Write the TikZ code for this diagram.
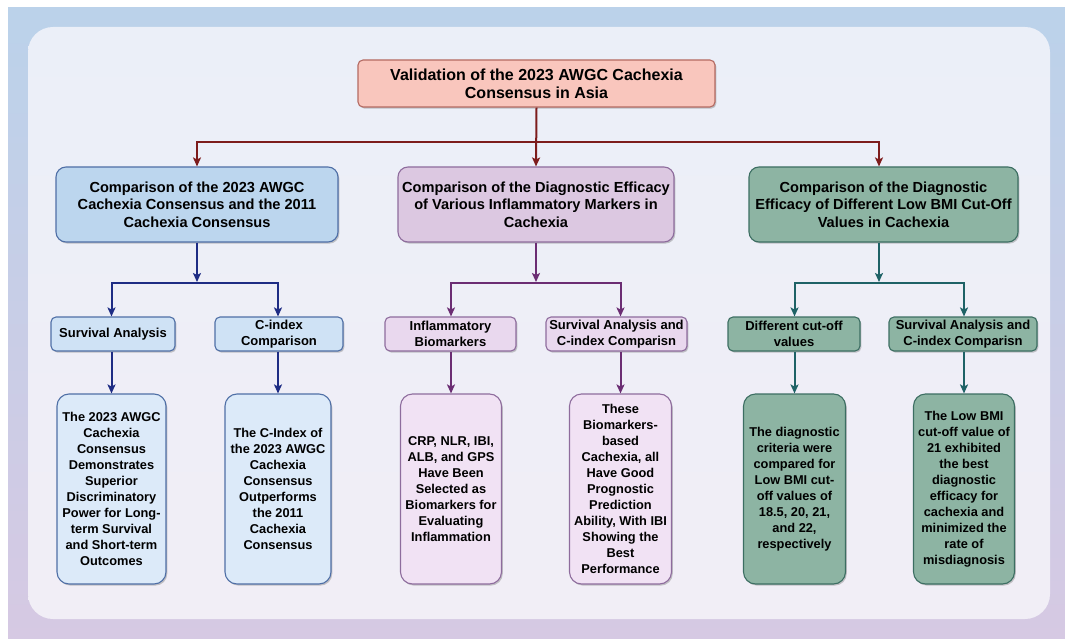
\documentclass[tikz,border=0pt]{standalone}
\usepackage{fontspec}
\setmainfont{Liberation Sans}
\usetikzlibrary{arrows.meta,shadows}

\definecolor{bgtop}{HTML}{BBD2EA}
\definecolor{bgbot}{HTML}{D6C9E3}
\definecolor{pantop}{HTML}{EBEFF8}
\definecolor{panbot}{HTML}{F1EEF6}
\definecolor{topfill}{HTML}{F9C6BD}
\definecolor{topdraw}{HTML}{B46A62}
\definecolor{redc}{HTML}{7D1C1C}
\definecolor{bluefillA}{HTML}{BCD6EE}
\definecolor{bluefillB}{HTML}{CFE2F5}
\definecolor{bluefillC}{HTML}{DCEAF9}
\definecolor{bluedraw}{HTML}{4F6FA6}
\definecolor{bluec}{HTML}{1E2C84}
\definecolor{purfillA}{HTML}{DCC8E1}
\definecolor{purfillB}{HTML}{E9D8EE}
\definecolor{purfillC}{HTML}{F1E2F4}
\definecolor{purdraw}{HTML}{8E6C9D}
\definecolor{purc}{HTML}{6B2D73}
\definecolor{grnfill}{HTML}{8DB4A3}
\definecolor{grndraw}{HTML}{3C6E62}
\definecolor{grnc}{HTML}{1E6266}

\tikzset{
  nodebox/.style={draw, line width=1.1pt, align=center, inner sep=1pt, text=black,
    drop shadow={shadow xshift=1.3pt, shadow yshift=-1.6pt, opacity=0.35, fill=black!60}},
  topbox/.style={nodebox, fill=topfill, draw=topdraw, rounded corners=5pt,
    font=\bfseries\fontsize{16}{18.3}\selectfont, minimum width=357pt, minimum height=47pt},
  lvtwo/.style={nodebox, rounded corners=10pt,
    font=\bfseries\fontsize{14.6}{17.5}\selectfont, minimum height=75pt},
  lvthree/.style={nodebox, rounded corners=5pt,
    font=\bfseries\fontsize{13}{16}\selectfont, minimum height=34pt},
  lvfour/.style={nodebox, rounded corners=12pt,
    font=\bfseries\fontsize{12.8}{16}\selectfont, minimum height=190pt},
  conn/.style={line width=2pt, -{Stealth[length=9pt,width=8pt,inset=2pt]}},
  bareline/.style={line width=2pt}
}

\begin{document}
\begin{tikzpicture}[x=1pt,y=-1pt]
\useasboundingbox (0,0) rectangle (1065,639);
\fill[white] (0,0) rectangle (1065,639);
\shade[top color=bgtop,bottom color=bgbot] (8,8) rectangle (1065,639);
\shade[top color=pantop,bottom color=panbot,rounded corners=25pt] (28,27) rectangle (1050,619);

% top
\node[topbox] (top) at (536.5,83.5) {Validation of the 2023 AWGC Cachexia\\Consensus in Asia};

% level 2
\node[lvtwo, fill=bluefillA, draw=bluedraw, minimum width=282pt] (l2a) at (197,204.5)
  {Comparison of the 2023 AWGC\\Cachexia Consensus and the 2011\\Cachexia Consensus};
\node[lvtwo, fill=purfillA, draw=purdraw, minimum width=276pt] (l2b) at (536,204.5)
  {Comparison of the Diagnostic Efficacy\\of Various Inflammatory Markers in\\Cachexia};
\node[lvtwo, fill=grnfill, draw=grndraw, minimum width=269pt] (l2c) at (883.5,204.5)
  {Comparison of the Diagnostic\\Efficacy of Different Low BMI Cut-Off\\Values in Cachexia};

% level 3
\node[lvthree, fill=bluefillB, draw=bluedraw, minimum width=124pt] (b3a) at (113,334) {Survival Analysis};
\node[lvthree, fill=bluefillB, draw=bluedraw, minimum width=128pt] (b3b) at (279,334) {C-index\\Comparison};
\node[lvthree, fill=purfillB, draw=purdraw, minimum width=131pt] (p3a) at (450.5,334) {Inflammatory\\Biomarkers};
\node[lvthree, fill=purfillB, draw=purdraw, minimum width=141pt] (p3b) at (616.5,334) {Survival Analysis and\\C-index Comparisn};
\node[lvthree, fill=grnfill, draw=grndraw, minimum width=132pt] (g3a) at (794,334) {Different cut-off\\values};
\node[lvthree, fill=grnfill, draw=grndraw, minimum width=148pt] (g3b) at (963,334) {Survival Analysis and\\C-index Comparisn};

% level 4
\node[lvfour, fill=bluefillC, draw=bluedraw, minimum width=109pt] (b4a) at (111.5,489)
  {The 2023 AWGC\\Cachexia\\Consensus\\Demonstrates\\Superior\\Discriminatory\\Power for Long-\\term Survival\\and Short-term\\Outcomes};
\node[lvfour, fill=bluefillC, draw=bluedraw, minimum width=106pt] (b4b) at (278,489)
  {The C-Index of\\the 2023 AWGC\\Cachexia\\Consensus\\Outperforms\\the 2011\\Cachexia\\Consensus};
\node[lvfour, fill=purfillC, draw=purdraw, minimum width=101pt] (p4a) at (451,489)
  {CRP, NLR, IBI,\\ALB, and GPS\\Have Been\\Selected as\\Biomarkers for\\Evaluating\\Inflammation};
\node[lvfour, fill=purfillC, draw=purdraw, minimum width=102pt] (p4b) at (620.5,489)
  {These\\Biomarkers-\\based\\Cachexia, all\\Have Good\\Prognostic\\Prediction\\Ability, With IBI\\Showing the\\Best\\Performance};
\node[lvfour, fill=grnfill, draw=grndraw, minimum width=102pt] (g4a) at (794.5,489)
  {The diagnostic\\criteria were\\compared for\\Low BMI cut-\\off values of\\18.5, 20, 21,\\and 22,\\respectively};
\node[lvfour, fill=grnfill, draw=grndraw, minimum width=101pt] (g4b) at (964,489)
  {The Low BMI\\cut-off value of\\21 exhibited\\the best\\diagnostic\\efficacy for\\cachexia and\\minimized the\\rate of\\misdiagnosis};

% red connectors
\coordinate (rbus) at (536.5,142);
\draw[conn, redc] (top.south) -- (l2b.north);
\draw[conn, redc] (rbus) -| (l2a.north);
\draw[conn, redc] (rbus) -| ([xshift=-4.5pt]l2c.north);

% blue connectors
\coordinate (bbus) at (197,283);
\draw[conn, bluec] (l2a.south) -- ([yshift=1pt]bbus);
\draw[conn, bluec] (bbus) -| (b4a.north |- b3a.north);
\draw[conn, bluec] (bbus) -| (b4b.north |- b3b.north);
\draw[conn, bluec] (b4a.north |- b3a.south) -- (b4a.north);
\draw[conn, bluec] (b4b.north |- b3b.south) -- (b4b.north);

% purple connectors
\coordinate (pbus) at (536,283);
\draw[conn, purc] (l2b.south) -- ([yshift=1pt]pbus);
\draw[conn, purc] (pbus) -| (p4a.north |- p3a.north);
\draw[conn, purc] (pbus) -| (p4b.north |- p3b.north);
\draw[conn, purc] (p4a.north |- p3a.south) -- (p4a.north);
\draw[conn, purc] (p4b.north |- p3b.south) -- (p4b.north);

% green connectors
\coordinate (gbus) at (879,283);
\draw[conn, grnc] ([xshift=-4.5pt]l2c.south) -- ([yshift=1pt]gbus);
\draw[conn, grnc] (gbus) -| (g4a.north |- g3a.north);
\draw[conn, grnc] (gbus) -| (g4b.north |- g3b.north);
\draw[conn, grnc] (g4a.north |- g3a.south) -- (g4a.north);
\draw[conn, grnc] (g4b.north |- g3b.south) -- (g4b.north);
\end{tikzpicture}
\end{document}
